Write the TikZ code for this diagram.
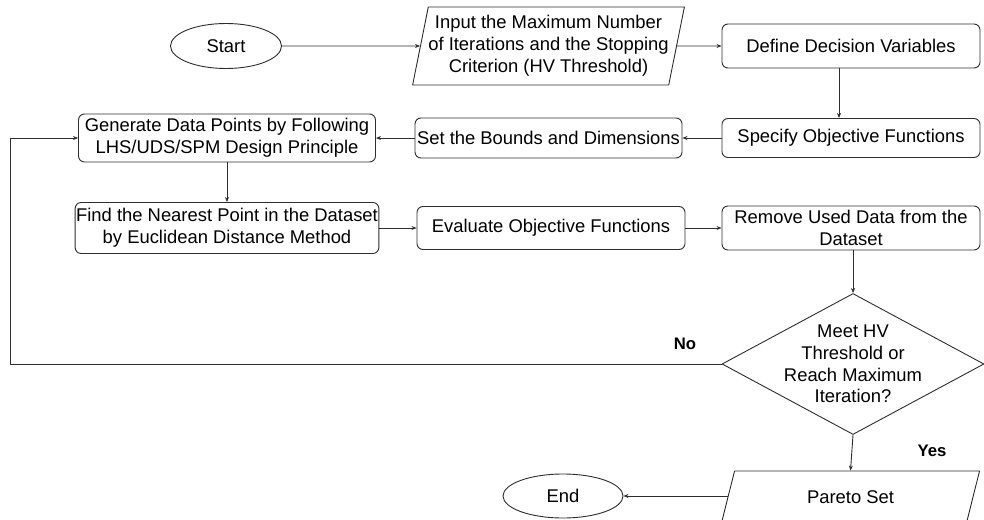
\documentclass[tikz,border=0pt]{standalone}
\usepackage{fontspec}
\setmainfont{Liberation Sans}
\usetikzlibrary{arrows.meta,shapes.geometric,positioning}
\definecolor{FlowLine}{RGB}{45,45,45}
\tikzset{
  terminal/.style ={ellipse, draw=FlowLine, line width=0.9pt, inner sep=0pt, font=\fontsize{18.4}{22}\selectfont},
  process/.style  ={rectangle, rounded corners=6pt, draw=FlowLine, line width=0.9pt, align=center, inner xsep=1pt, inner ysep=1pt, font=\fontsize{18.4}{22}\selectfont},
  inout/.style    ={trapezium, trapezium stretches=true, draw=FlowLine, line width=0.9pt, align=center, inner sep=0pt, font=\fontsize{18.4}{22}\selectfont},
  decision/.style ={diamond, draw=FlowLine, line width=0.9pt, inner sep=0pt, minimum width=262pt, minimum height=141pt},
  flow/.style     ={draw=FlowLine, line width=0.9pt},
  answer/.style   ={font=\fontsize{16.7}{20}\selectfont\bfseries},
}

\begin{document}
\begin{tikzpicture}[
  x=1pt,y=-1pt,
  >={Stealth[length=5pt,width=4pt]},
  line cap=round,
  line join=round
]
\useasboundingbox (0,0) rectangle (984,519);

% --- Top row -------------------------------------------------------------
\node[terminal, minimum width=111pt, minimum height=45pt] (start) at (226,46) {Start};
\node[inout, trapezium left angle=75.6, trapezium right angle=104.4,
      minimum width=267pt, minimum height=78pt] (input) at (548.5,46)
  {Input the Maximum Number\\of Iterations and the Stopping\\Criterion (HV Threshold)};
\node[process, minimum width=258pt, minimum height=44pt] (define) at (851,46) {Define Decision Variables};

% --- Second row ----------------------------------------------------------
\node[process, minimum width=258pt, minimum height=39pt] (specify) at (851,138) {Specify Objective Functions};
\node[process, minimum width=267pt, minimum height=40pt] (bounds) at (548.5,138) {Set the Bounds and Dimensions};
\node[process, minimum width=297pt, minimum height=48pt] (generate) at (227,138)
  {Generate Data Points by Following\\LHS/UDS/SPM Design Principle};

% --- Third row -----------------------------------------------------------
\node[process, minimum width=297pt, minimum height=51pt] (nearest) at (227,228)
  {Find the Nearest Point in the Dataset\\by Euclidean Distance Method};
\node[process, minimum width=268pt, minimum height=43pt] (evaluate) at (551,228) {Evaluate Objective Functions};
\node[process, minimum width=258pt, minimum height=44pt] (remove) at (851,228) {Remove Used Data from the\\Dataset};

% --- Decision and end ----------------------------------------------------
\node[decision] (check) at (853,364) {};
\node[align=center, font=\fontsize{18.4}{21.7}\selectfont] (checktext) at (check) {Meet HV\\Threshold or\\Reach Maximum\\Iteration?};
\node[inout, trapezium left angle=69.4, trapezium right angle=110.6,
      minimum width=259pt, minimum height=52pt] (pareto) at (850.5,497) {Pareto Set};
\node[terminal, minimum width=120pt, minimum height=44pt] (stop) at (563,496) {End};

\coordinate (back) at (10,364);
\node[answer] (no) at (685,344) {No};
\node[answer] (yes) at (932,451) {Yes};

% --- Connectors ----------------------------------------------------------
\draw[flow, ->] (start) -- (input);
\draw[flow, ->] (input) -- (define);
\draw[flow, ->] ([xshift=-12pt]define.south) -- ([xshift=-12pt]specify.north);
\draw[flow, ->] (specify) -- (bounds);
\draw[flow, ->] (bounds) -- (generate);
\draw[flow, ->] (generate) -- (nearest);
\draw[flow, ->] (nearest) -- (evaluate);
\draw[flow, ->] (evaluate) -- (remove);
\draw[flow, ->] (remove.south -| check.north) -- (check.north);
\draw[flow, ->] (check.west) -- (back) |- (generate.west);
\draw[flow, ->] (check.south) -- (pareto.north);
\draw[flow, ->] (pareto.west |- stop.east) -- (stop.east);

\end{tikzpicture}
\end{document}
